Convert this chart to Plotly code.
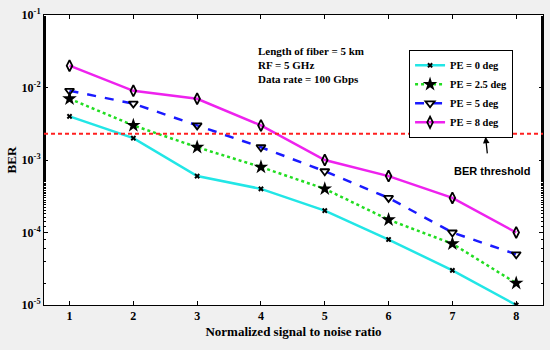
import plotly.graph_objects as go

snr = [1, 2, 3, 4, 5, 6, 7, 8]
pe0 = [4e-3, 2e-3, 6e-4, 4e-4, 2e-4, 8e-5, 3e-5, 1e-5]
pe25 = [7e-3, 3e-3, 1.5e-3, 8e-4, 4e-4, 1.5e-4, 7e-5, 2e-5]
pe5 = [9e-3, 6e-3, 3e-3, 1.5e-3, 7e-4, 3e-4, 1e-4, 5e-5]
pe8 = [2e-2, 9e-3, 7e-3, 3e-3, 1e-3, 6e-4, 3e-4, 1e-4]
ber_threshold = 2.3e-3
ytickvals = [1e-5, 1e-4, 1e-3, 1e-2, 1e-1]
yticktext = ["10<sup>-5</sup>", "10<sup>-4</sup>", "10<sup>-3</sup>", "10<sup>-2</sup>", "10<sup>-1</sup>"]

FONT = "Liberation Serif"

fig = go.Figure()
fig.add_trace(go.Scatter(x=snr, y=pe0, name="PE = 0 deg", mode="lines+markers",
                         line=dict(color="#22e6e6", width=2.5),
                         marker=dict(symbol="x", size=5, color="black")))
fig.add_trace(go.Scatter(x=snr, y=pe25, name="PE = 2.5 deg", mode="lines+markers",
                         line=dict(color="#22dd22", width=2.5, dash="dot"),
                         marker=dict(symbol="star", size=11, color="black")))
fig.add_trace(go.Scatter(x=snr, y=pe5, name="PE = 5 deg", mode="lines+markers",
                         line=dict(color="#1a1aff", width=2.5, dash="dash"),
                         marker=dict(symbol="triangle-down-open", size=8, color="black",
                                     line=dict(width=1.8, color="black"))))
fig.add_trace(go.Scatter(x=snr, y=pe8, name="PE = 8 deg", mode="lines+markers",
                         line=dict(color="#ee22ee", width=2.5),
                         marker=dict(symbol="diamond-tall-open", size=8, color="black",
                                     line=dict(width=1.8, color="black"))))

fig.add_shape(type="line", xref="paper", x0=0, x1=1, yref="y", y0=ber_threshold, y1=ber_threshold,
              line=dict(color="#ff2020", width=2, dash="4px,3px"))

fig.add_annotation(x=7.62, y=-3.15, xref="x", yref="y", text="<b>BER threshold</b>", showarrow=False,
                   font=dict(family="Liberation Sans", size=11, color="black"),
                   xanchor="center", yanchor="middle")
fig.add_annotation(x=7.52, y=-2.68, xref="x", yref="y", ax=7.55, ay=-2.93, axref="x", ayref="y",
                   text="", showarrow=True, arrowhead=2, arrowsize=1, arrowwidth=1.3, arrowcolor="black")

for i, t in enumerate(["Length of fiber = 5 km", "RF = 5 GHz", "Data rate = 100 Gbps"]):
    fig.add_annotation(x=0.424, xref="paper", y=0.875 - i * 0.048, yref="paper", text="<b>" + t + "</b>",
                       showarrow=False, xanchor="left", yanchor="middle",
                       font=dict(family=FONT, size=11, color="black"))

axis_common = dict(showline=True, linecolor="black", linewidth=1, mirror="ticks",
                   ticks="inside", ticklen=4, tickcolor="black", showgrid=False, zeroline=False,
                   automargin=False,
                   tickfont=dict(family=FONT, size=12, color="black", weight="bold"))

fig.update_xaxes(range=[0.6, 8.42], tickvals=snr, **axis_common,
                 title=dict(text="Normalized signal to noise ratio", standoff=4,
                            font=dict(family=FONT, size=13, color="black", weight="bold")))
fig.update_yaxes(type="log", range=[-5, -1], tickvals=ytickvals, ticktext=yticktext, **axis_common,
                 minor=dict(ticks="inside", ticklen=2, tickcolor="black"),
                 title=dict(text="BER", standoff=2,
                            font=dict(family=FONT, size=13, color="black", weight="bold")))

fig.update_layout(
    width=550, height=350,
    margin=dict(l=44, r=7, t=15, b=45),
    paper_bgcolor="#f0f0f0", plot_bgcolor="white",
    showlegend=True,
    legend=dict(x=0.94, y=0.88, xanchor="right", yanchor="top", bgcolor="white",
                bordercolor="black", borderwidth=1, tracegroupgap=0, itemwidth=30,
                font=dict(family=FONT, size=10.5, color="black", weight="bold")),
)

fig.write_html("out.html", config={"displayModeBar": False},
               post_script="document.body.style.margin='0';")
